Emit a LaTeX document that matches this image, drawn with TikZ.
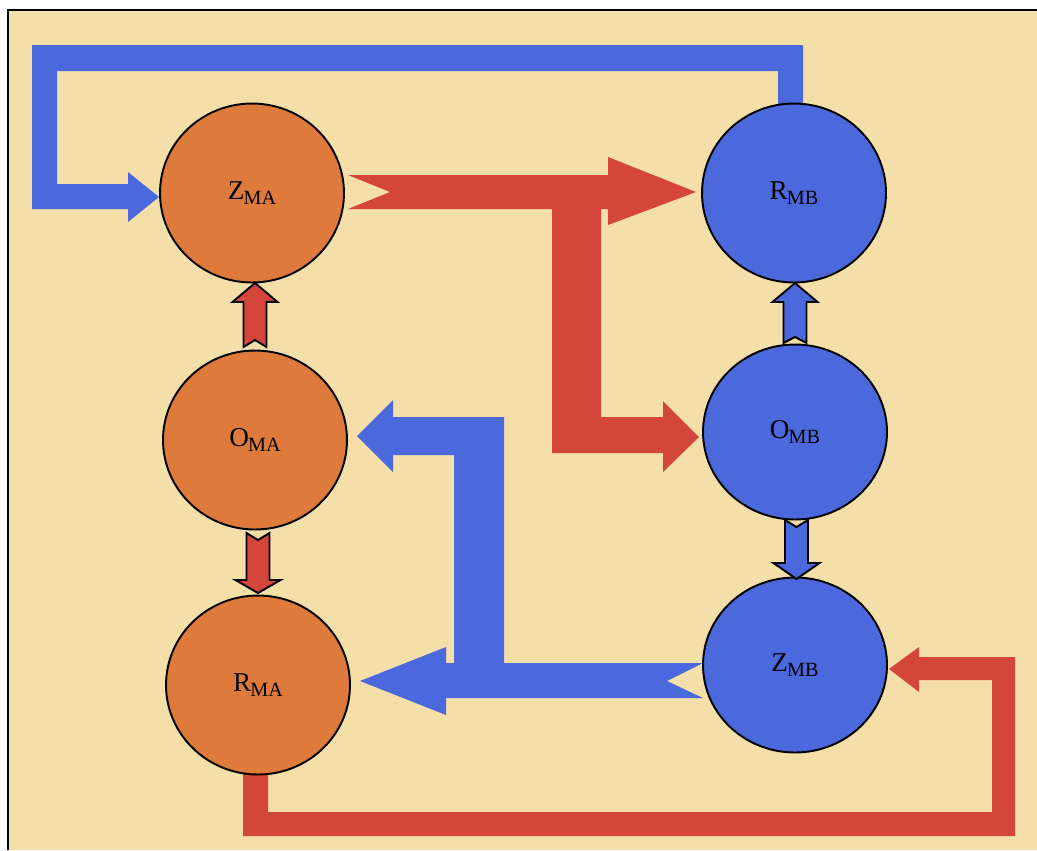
\documentclass[tikz,border=0pt]{standalone}
\usepackage{fontspec}
\setmainfont{Liberation Serif}
\usetikzlibrary{shapes.geometric}
\definecolor{bg}{HTML}{F4DFA9}
\definecolor{orng}{HTML}{DE7B3C}
\definecolor{blu}{HTML}{4B69DC}
\definecolor{rd}{HTML}{D4453B}
\newcommand{\lbl}[2]{{\fontsize{15.5}{16}\selectfont #1\kern-0.5pt\raisebox{-0.45ex}{\fontsize{11.5}{12}\selectfont #2}}}
\begin{document}
\begin{tikzpicture}[x=0.02cm,y=-0.02cm,
  circA/.style={ellipse,draw=black,line width=1.1pt,fill=orng,minimum width=3.68cm,minimum height=3.58cm,inner sep=0pt},
  circB/.style={ellipse,draw=black,line width=1.1pt,fill=blu,minimum width=3.68cm,minimum height=3.5cm,inner sep=0pt},
  bigred/.style={fill=rd},
  bigblue/.style={fill=blu},
  smallred/.style={fill=rd,draw=black,line width=1.1pt,line join=miter},
  smallblue/.style={fill=blu,draw=black,line width=1.1pt,line join=miter}]
\useasboundingbox (0,0) rectangle (1037,850);
\fill[white] (0,0) rectangle (1037,850);
\fill[bg] (8,10) rectangle (1037,850);
\draw[line width=1pt] (8,850) -- (8,10) -- (1037,10);

% blue feedback (R_MB -> Z_MA)
\fill[bigblue] (778,105) -- (778,71) -- (57,71) -- (57,184) -- (128,184) -- (128,172) -- (159,197)
  -- (128,222) -- (128,209) -- (32,209) -- (32,45) -- (803,45) -- (803,105) -- cycle;
% red feedback (R_MA -> Z_MB)
\fill[bigred] (243,770) -- (243,836) -- (1015,836) -- (1015,657) -- (919,657) -- (919,647) -- (889,669)
  -- (919,692) -- (919,680) -- (992,680) -- (992,812) -- (268,812) -- (268,770) -- cycle;
% big red (Z_MA -> R_MB, O_MB)
\fill[bigred] (348,175) -- (390,192) -- (348,209) -- (552,209) -- (552,453) -- (663,453) -- (663,472)
  -- (699,437) -- (663,401) -- (663,417) -- (601,417) -- (601,209) -- (608,209) -- (608,225)
  -- (696,192) -- (608,157) -- (608,175) -- cycle;
% big blue (Z_MB -> O_MA, R_MA)
\fill[bigblue] (357,436) -- (393,400) -- (393,417) -- (504,417) -- (504,663) -- (703,663) -- (667,681)
  -- (703,698) -- (446,698) -- (446,715) -- (360,681) -- (446,647) -- (446,663) -- (454,663)
  -- (454,455) -- (393,455) -- (393,472) -- cycle;

\node[circA] (Zma) at (252,193) {\lbl{Z}{MA}};
\node[circA] (Oma) at (255,440) {\lbl{O}{MA}};
\node[circA] (Rma) at (258,685) {\lbl{R}{MA}};
\node[circB,minimum height=3.58cm] (Rmb) at (794,193) {\lbl{R}{MB}};
\node[circB] (Omb) at (795,432) {\lbl{O}{MB}};
\node[circB] (Zmb) at (795,665) {\lbl{Z}{MB}};

% small arrows
\draw[smallred] (255,283) -- (277.5,302) -- (266.5,302) -- (266.5,347) -- (255,340) -- (243.5,347)
  -- (243.5,302) -- (232.5,302) -- cycle;
\draw[smallred] (258,593) -- (280.5,580) -- (269.5,580) -- (269.5,533) -- (258,540) -- (246.5,533)
  -- (246.5,580) -- (235.5,580) -- cycle;
\draw[smallblue] (795,283) -- (817.5,302) -- (806.5,302) -- (806.5,343) -- (795,337) -- (783.5,343)
  -- (783.5,302) -- (772.5,302) -- cycle;
\draw[smallblue] (796.5,579) -- (819.5,563) -- (808,563) -- (808,520) -- (796.5,527) -- (785,520)
  -- (785,563) -- (773.5,563) -- cycle;
\end{tikzpicture}
\end{document}
